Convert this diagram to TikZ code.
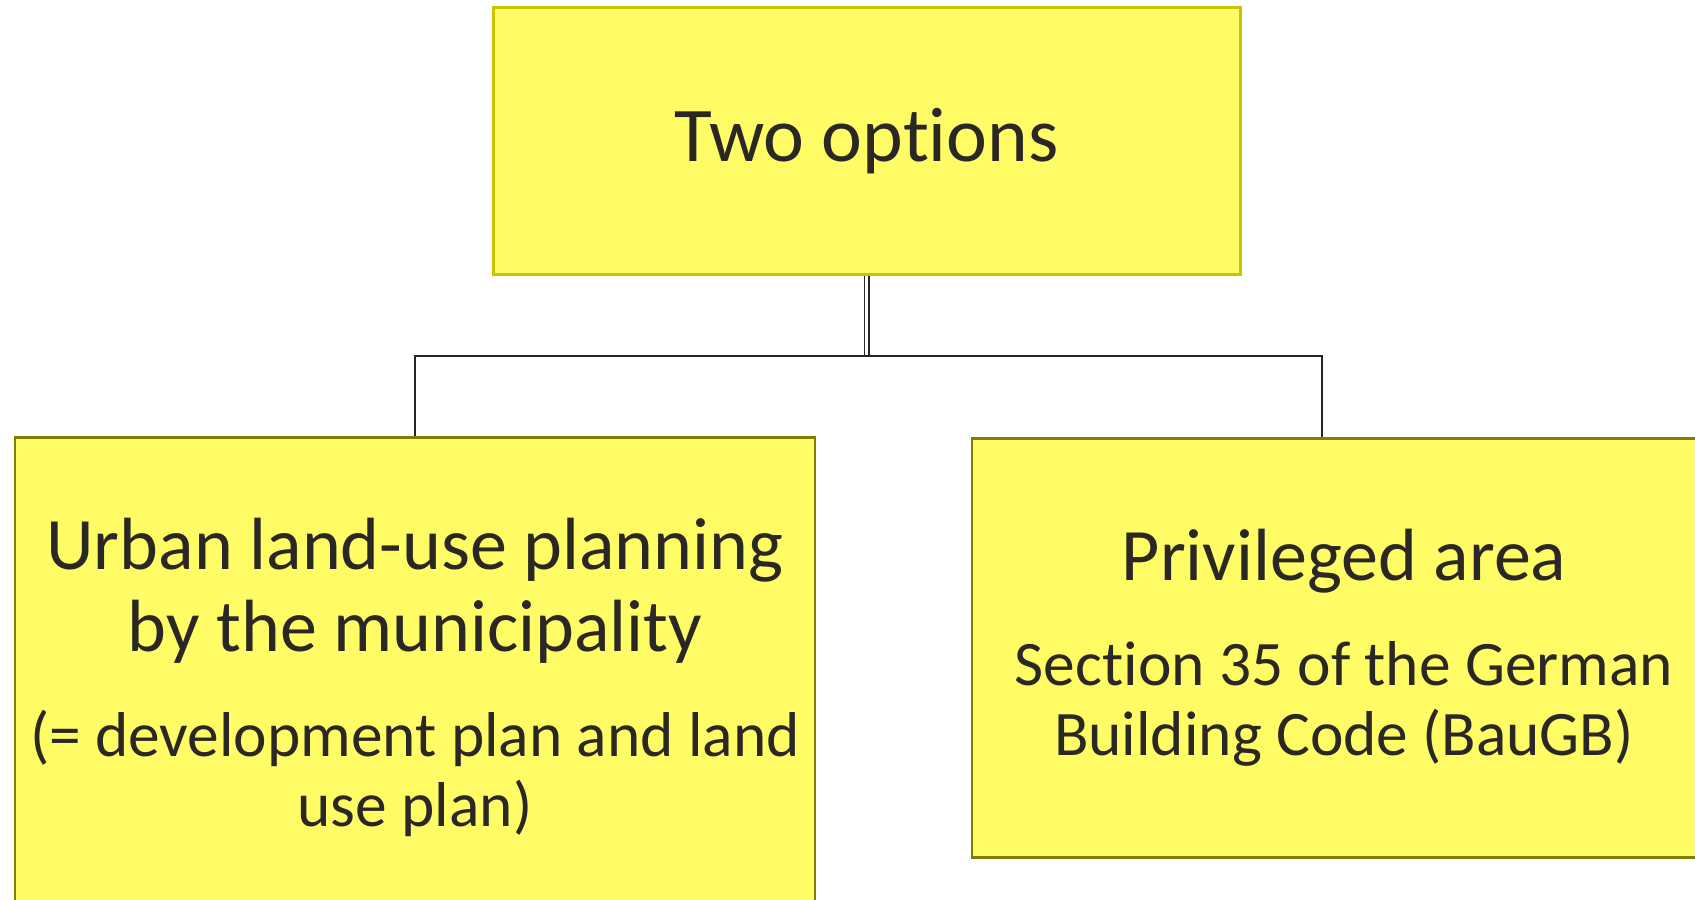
\documentclass[tikz,border=0pt]{standalone}
\usepackage{fontspec}
\setmainfont{Carlito}[Ligatures=NoCommon]
\usepackage{xcolor}
\usetikzlibrary{positioning}

\definecolor{boxfill}{HTML}{FFFC66}
\definecolor{topline}{HTML}{C8C400}
\definecolor{optline}{HTML}{7F7F00}
\definecolor{inktext}{HTML}{2B2724}

\begin{document}
\begin{tikzpicture}[
    box/.style={draw, fill=boxfill, text=inktext, inner sep=2pt, align=flush center},
    link/.style={draw=black!85, line width=0.65pt},
    bigtext/.style={font=\fontsize{37}{40.8}\selectfont},
]
\clip (0,0) rectangle (847.5pt,449.5pt);

% Heading box
\node[box, draw=topline, line width=1.5pt, minimum width=373.5pt, minimum height=133.5pt,
      font=\fontsize{38.7}{42.5}\selectfont] (two) at (433.25pt,379pt) {Two options};

% The two options below it
\node[box, draw=optline, line width=1.25pt, text width=396pt, minimum height=240pt,
      below=80.2pt of two, xshift=-225.75pt, bigtext] (urban)
    {Urban land-use planning\\by the municipality\par
     \vspace{17.5pt}
     {\fontsize{31.7}{35}\selectfont (= development plan and land\\use plan)\par}};

\node[box, draw=optline, line width=1.25pt, text width=368pt, minimum height=209.5pt,
      below=80.7pt of two, xshift=238.75pt, bigtext] (priv)
    {Privileged area\par
     \vspace{17.5pt}
     {\fontsize{31.7}{35}\selectfont Section 35 of the German\\Building Code (BauGB)\par}};

% Connectors
\coordinate[below=40pt of two] (fork);
\draw[link, double, double distance=1.8pt, line width=0.6pt] (two) -- (fork);
\draw[link] (urban.north) |- (fork) -| ([xshift=-11pt]priv.north);

\end{tikzpicture}
\end{document}
